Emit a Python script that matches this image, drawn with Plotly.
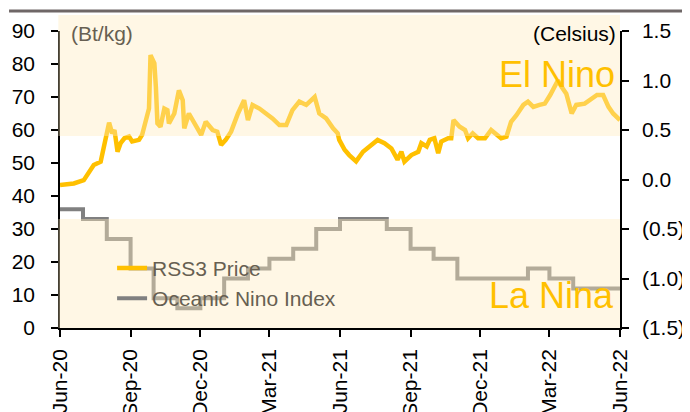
import plotly.graph_objects as go

# ---- data ----
price_dates = [
    "2020-06-01", "2020-06-19", "2020-07-02", "2020-07-09", "2020-07-15", "2020-07-24", "2020-07-28",
    "2020-08-02", "2020-08-04", "2020-08-08", "2020-08-11", "2020-08-15", "2020-08-19", "2020-08-24",
    "2020-08-30", "2020-09-03", "2020-09-12", "2020-09-16", "2020-09-21", "2020-09-25", "2020-09-27",
    "2020-10-02", "2020-10-04", "2020-10-06", "2020-10-10", "2020-10-15", "2020-10-19", "2020-10-21",
    "2020-10-28", "2020-11-03", "2020-11-08", "2020-11-10", "2020-11-16", "2020-11-23", "2020-12-02",
    "2020-12-08", "2020-12-17", "2020-12-23", "2020-12-28", "2021-01-03", "2021-01-10", "2021-01-19",
    "2021-01-27", "2021-02-01", "2021-02-07", "2021-02-16", "2021-02-25", "2021-03-05", "2021-03-14",
    "2021-03-23", "2021-03-31", "2021-04-09", "2021-04-18", "2021-04-29", "2021-05-05", "2021-05-14",
    "2021-05-23", "2021-05-29", "2021-05-31", "2021-06-07", "2021-06-13", "2021-06-22", "2021-07-01",
    "2021-07-09", "2021-07-20", "2021-07-29", "2021-08-07", "2021-08-15", "2021-08-20", "2021-08-24",
    "2021-09-02", "2021-09-11", "2021-09-15", "2021-09-22", "2021-09-26", "2021-10-02", "2021-10-07",
    "2021-10-11", "2021-10-20", "2021-10-24", "2021-10-27", "2021-11-04", "2021-11-11", "2021-11-15",
    "2021-11-21", "2021-11-28", "2021-12-07", "2021-12-15", "2021-12-22", "2021-12-28", "2022-01-04",
    "2022-01-10", "2022-01-17", "2022-01-26", "2022-02-01", "2022-02-08", "2022-02-16", "2022-02-23",
    "2022-03-02", "2022-03-12", "2022-03-17", "2022-03-23", "2022-03-30", "2022-04-05", "2022-04-16",
    "2022-04-25", "2022-05-02", "2022-05-10", "2022-05-17", "2022-05-23", "2022-06-01",
]
price_values = [
    43.3, 43.8, 44.8, 47.0, 49.4, 50.4, 55.0,
    60.0, 62.2, 59.0, 60.0, 53.4, 56.0, 57.5,
    58.0, 56.5, 57.0, 58.5, 63.0, 66.5, 82.7,
    80.2, 73.0, 62.0, 61.0, 66.5, 66.0, 62.0,
    65.0, 72.0, 69.0, 60.5, 65.0, 62.0, 58.5,
    62.5, 60.0, 59.5, 55.5, 57.0, 59.5, 65.0,
    69.0, 63.0, 67.6, 66.5, 65.0, 63.5, 61.5,
    61.5, 66.0, 68.6, 67.6, 70.0, 65.0, 63.5,
    60.5, 59.0, 57.0, 54.0, 52.4, 50.5, 53.4,
    55.0, 57.0, 56.0, 54.4, 51.0, 53.4, 50.4,
    52.4, 53.4, 56.0, 55.0, 57.0, 57.5, 53.0,
    56.5, 57.5, 57.5, 63.0, 61.0, 60.0, 57.5,
    59.0, 57.5, 57.5, 60.0, 58.5, 57.5, 58.0,
    62.5, 64.5, 67.6, 68.6, 67.0, 67.6, 68.0,
    70.6, 75.0, 73.0, 71.0, 65.0, 67.6, 68.0,
    69.6, 70.6, 70.6, 67.0, 65.0, 63.0,
]

oni_months = [
    "2020-06-01", "2020-07-01", "2020-08-01", "2020-09-01", "2020-10-01", "2020-11-01",
    "2020-12-01", "2021-01-01", "2021-02-01", "2021-03-01", "2021-04-01", "2021-05-01",
    "2021-06-01", "2021-07-01", "2021-08-01", "2021-09-01", "2021-10-01", "2021-11-01",
    "2021-12-01", "2022-01-01", "2022-02-01", "2022-03-01", "2022-04-01", "2022-05-01",
    "2022-06-01",
]
oni_values = [
    -0.3, -0.4, -0.6, -0.9, -1.2, -1.3,
    -1.2, -1.0, -0.9, -0.8, -0.7, -0.5,
    -0.4, -0.4, -0.5, -0.7, -0.8, -1.0,
    -1.0, -1.0, -0.9, -1.0, -1.1, -1.1,
    -1.1,
]

x_tickvals = ["2020-06-01", "2020-09-01", "2020-12-01", "2021-03-01", "2021-06-01",
              "2021-09-01", "2021-12-01", "2022-03-01", "2022-06-01"]
x_ticktext = ["Jun-20", "Sep-20", "Dec-20", "Mar-21", "Jun-21", "Sep-21", "Dec-21", "Mar-22", "Jun-22"]
y_tickvals = [0, 10, 20, 30, 40, 50, 60, 70, 80, 90]
y2_tickvals = [-1.5, -1.0, -0.5, 0.0, 0.5, 1.0, 1.5]
y2_ticktext = ["(1.5)", "(1.0)", "(0.5)", "0.0", "0.5", "1.0", "1.5"]

FONT = "Liberation Sans, Arial, sans-serif"
YELLOW = "#ffc000"
GRAY = "#808080"
BLEND_TEXT = "#675f52"

fig = go.Figure()
fig.add_trace(go.Scatter(
    x=price_dates, y=price_values, mode="lines", name="RSS3 Price",
    line=dict(color=YELLOW, width=4.5), yaxis="y",
))
fig.add_trace(go.Scatter(
    x=oni_months, y=oni_values, mode="lines", name="Oceanic Nino Index",
    line=dict(color=GRAY, width=4, shape="hv"), yaxis="y2",
))

band = "rgba(255,235,190,0.4)"
fig.add_shape(type="rect", xref="paper", yref="paper", x0=-0.003, x1=1.0, y0=0.6465, y1=1.054,
              fillcolor=band, line=dict(width=0), layer="above")
fig.add_shape(type="rect", xref="paper", yref="paper", x0=-0.003, x1=1.0, y0=0.0, y1=0.367,
              fillcolor=band, line=dict(width=0), layer="above")
# header rule
fig.add_shape(type="line", xref="paper", yref="paper", x0=-0.091, x1=1.13, y0=1.067, y1=1.067,
              line=dict(color="#6f6767", width=3), layer="above")

fig.add_annotation(text="(Bt/kg)", xref="paper", yref="paper", x=0.016, y=0.99,
                   xanchor="left", yanchor="middle", showarrow=False,
                   font=dict(family=FONT, size=21, color=BLEND_TEXT))
fig.add_annotation(text="(Celsius)", xref="paper", yref="paper", x=0.996, y=0.99,
                   xanchor="right", yanchor="middle", showarrow=False,
                   font=dict(family=FONT, size=21, color="#000000"))
fig.add_annotation(text="El Nino", xref="paper", yref="paper", x=0.994, y=0.855,
                   xanchor="right", yanchor="middle", showarrow=False,
                   font=dict(family=FONT, size=36, color=YELLOW))
fig.add_annotation(text="La Nina", xref="paper", yref="paper", x=0.992, y=0.11,
                   xanchor="right", yanchor="middle", showarrow=False,
                   font=dict(family=FONT, size=36, color=YELLOW))

axis_font = dict(family=FONT, size=21, color="#000000")
# the page body has an 8px margin, so the figure is sized 8px smaller and margins shifted
fig.update_layout(
    width=682, height=404,
    margin=dict(l=52, r=70, t=23, b=84, pad=0),
    paper_bgcolor="white", plot_bgcolor="white",
    showlegend=True,
    legend=dict(x=0.093, y=0.27, xanchor="left", yanchor="top",
                bgcolor="rgba(0,0,0,0)", font=dict(family=FONT, size=21, color=BLEND_TEXT),
                tracegroupgap=0),
    xaxis=dict(type="date", range=["2020-06-01", "2022-06-01"],
               tickmode="array", tickvals=x_tickvals, ticktext=x_ticktext,
               tickangle=-90, ticks="outside", ticklen=7, tickwidth=1.5, tickcolor="#000",
               showline=True, linecolor="#000", linewidth=1.5, showgrid=False, zeroline=False,
               tickfont=axis_font, ticklabelstandoff=4, automargin=False),
    yaxis=dict(range=[0, 90], tickmode="array", tickvals=y_tickvals,
               ticks="outside", ticklen=7, tickwidth=1.5, tickcolor="#000",
               showline=True, linecolor="#000", linewidth=1.5, showgrid=False, zeroline=False,
               tickfont=axis_font, ticklabelstandoff=12, automargin=False),
    yaxis2=dict(range=[-1.5, 1.5], overlaying="y", side="right", tickmode="array",
                tickvals=y2_tickvals, ticktext=y2_ticktext,
                ticks="outside", ticklen=7, tickwidth=1.5, tickcolor="#000",
                showline=True, linecolor="#000", linewidth=1.5, showgrid=False, zeroline=False,
                tickfont=axis_font, ticklabelstandoff=9, automargin=False),
)

fig.write_html("out.html")
